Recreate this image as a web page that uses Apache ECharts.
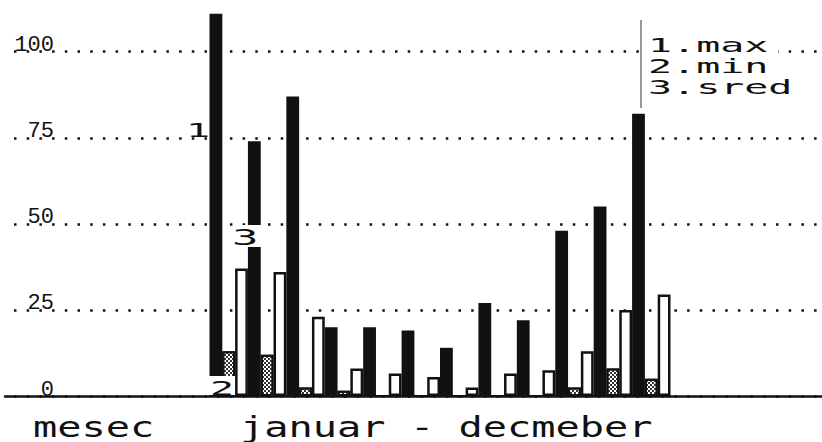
<!DOCTYPE html>
<html>
<head>
<meta charset="utf-8">
<script src="https://cdn.jsdelivr.net/npm/echarts@6/dist/echarts.min.js"></script>
<style>
  html, body { margin: 0; padding: 0; background: #ffffff; }
  #chart { width: 822px; height: 442px; }
</style>
</head>
<body>
<div id="chart"></div>
<script>
// ---- data ----
const months = ['januar', 'februar', 'mart', 'april', 'maj', 'jun', 'jul', 'avgust', 'septembar', 'oktobar', 'novembar', 'decembar'];
const maxVals  = [111, 74, 87, 20, 20, 19, 14, 27, 22, 48, 55, 82];
const minVals  = [13, 12, 2.5, 1.5, 0, 0, 0, 0, 0, 2.5, 8, 5];
const sredVals = [37, 36, 23, 8, 6.5, 5.5, 2.5, 6.5, 7.5, 13, 25, 29.5];
const seriesNames = ['max', 'min', 'sred'];
const yTicks = [0, 25, 50, 75, 100];
const xTitle = 'mesec';
const rangeTitle = 'januar - decmeber';

// ---- styles ----
const INK = '#111111';
const MONO = '"DejaVu Sans Mono", monospace';
const gridTop = -34.4, gridBottom = 46;

const chart = echarts.init(document.getElementById('chart'), null, { renderer: 'svg' });

const legendGraphics = seriesNames.map((n, i) => ({
  type: 'text',
  x: 648,
  y: [45, 66, 87][i],
  scaleX: 2,
  z: 120,
  style: { text: (i + 1) + '.' + n, fontSize: 20, fontFamily: MONO, fill: INK, verticalAlign: 'middle', align: 'left' }
}));

const option = {
  backgroundColor: '#ffffff',
  animation: false,
  grid: [
    { left: 5, right: 0, top: gridTop, bottom: gridBottom, containLabel: false, outerBoundsMode: 'none' },
    { left: 209.5, width: 461, top: gridTop, bottom: gridBottom, containLabel: false, outerBoundsMode: 'none' }
  ],
  xAxis: [
    { gridIndex: 0, type: 'value', min: 0, max: 1,
      axisLine: { show: true, lineStyle: { color: INK, width: 2.5 } },
      axisTick: { show: false }, axisLabel: { show: false }, splitLine: { show: false } },
    { gridIndex: 1, type: 'category', data: months,
      axisLine: { show: false }, axisTick: { show: false }, axisLabel: { show: false }, splitLine: { show: false } }
  ],
  yAxis: [
    { gridIndex: 0, type: 'value', min: 0, max: 125, interval: 25,
      axisLine: { show: false }, axisTick: { show: false },
      splitLine: { show: true, lineStyle: { color: INK, width: 2.5, type: [2.5, 10.2], dashOffset: -9.5 } },
      axisLabel: {
        inside: true, margin: 49, align: 'right', verticalAlign: 'bottom', lineHeight: 12,
        fontSize: 22, fontFamily: '"Liberation Mono", monospace', color: INK,
        formatter: v => (yTicks.indexOf(v) >= 0 ? String(v) : '')
      } },
    { gridIndex: 1, type: 'value', min: 0, max: 125, show: false, splitLine: { show: false } }
  ],
  series: [
    { name: seriesNames[0], type: 'bar', xAxisIndex: 1, yAxisIndex: 1, data: maxVals,
      barGap: '0%', barCategoryGap: '0%', z: 3,
      itemStyle: { color: INK } },
    { name: seriesNames[1], type: 'bar', xAxisIndex: 1, yAxisIndex: 1, data: minVals,
      barGap: '0%', barCategoryGap: '0%', z: 3,
      itemStyle: { color: '#ffffff', borderColor: INK, borderWidth: 2,
        decal: { symbol: 'rect', symbolSize: 1, color: '#333333', backgroundColor: '#ffffff',
                 dashArrayX: [[2, 2], [0, 2, 2, 0]], dashArrayY: [2, 0] } } },
    { name: seriesNames[2], type: 'bar', xAxisIndex: 1, yAxisIndex: 1, data: sredVals,
      barGap: '0%', barCategoryGap: '0%', z: 3,
      itemStyle: { color: '#ffffff', borderColor: INK, borderWidth: 2.5 } }
  ],
  graphic: [
    // legend divider and cover
    { type: 'rect', z: 110, shape: { x: 645, y: 34, width: 133, height: 66 }, style: { fill: '#ffffff' } },
    { type: 'line', z: 115, shape: { x1: 641, y1: 20, x2: 641, y2: 108 }, style: { stroke: '#333333', lineWidth: 1 } },
    ...legendGraphics,
    // annotation covers and labels
    { type: 'rect', z: 110, shape: { x: 208, y: 376, width: 27, height: 19 }, style: { fill: '#ffffff' } },
    { type: 'rect', z: 110, shape: { x: 237, y: 225, width: 25, height: 22 }, style: { fill: '#ffffff' } },
    { type: 'text', z: 120, x: 186, y: 130, scaleX: 2, style: { text: '1', fontSize: 20, fontFamily: MONO, fill: INK, verticalAlign: 'middle' } },
    { type: 'text', z: 120, x: 210, y: 388, scaleX: 2, style: { text: '2', fontSize: 20, fontFamily: MONO, fill: INK, verticalAlign: 'middle' } },
    { type: 'text', z: 120, x: 232, y: 237, scaleX: 2, style: { text: '3', fontSize: 22, fontFamily: MONO, fill: INK, verticalAlign: 'middle' } },
    // bottom titles
    { type: 'text', z: 120, x: 33, y: 427, scaleX: 1.44, style: { text: xTitle, fontSize: 28, lineHeight: 28, fontFamily: MONO, fill: INK, verticalAlign: 'middle' } },
    { type: 'text', z: 120, x: 240, y: 427, scaleX: 1.44, style: { text: rangeTitle, fontSize: 28, lineHeight: 28, fontFamily: MONO, fill: INK, verticalAlign: 'middle' } }
  ]
};

chart.setOption(option);
</script>
</body>
</html>
